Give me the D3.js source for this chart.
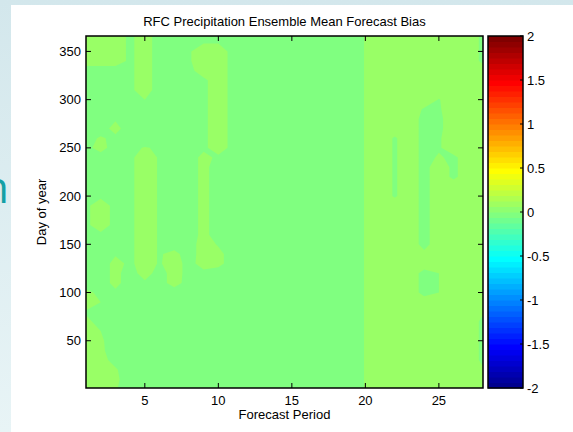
<!DOCTYPE html>
<html><head><meta charset="utf-8">
<script src="https://cdn.jsdelivr.net/npm/d3@7"></script>
<style>body{margin:0;background:#fff}svg{display:block;font-family:"Liberation Sans",Arial,sans-serif}</style>
</head><body><svg id="c" width="573" height="432"></svg>
<script>
// ---- data ----
const titleText = "RFC Precipitation Ensemble Mean Forecast Bias";
const xLabel = "Forecast Period";
const yLabel = "Day of year";
const periods = [1,2,3,4,5,6,7,8,9,10,11,12,13,14,15,16,17,18,19,20,21,22,23,24,25,26,27,28];
const days = [1,10,20,30,40,50,60,70,80,90,100,110,120,130,140,150,160,170,180,190,200,210,220,230,240,250,260,270,280,290,300,310,320,330,340,350,360,366];
// bias[dayIndex][periodIndex]
const bias = [
[.1,.08,.06,0,0,0,0,0,0,0,0,0,0,0,0,0,0,0,0,.055,.1,.1,.1,.1,.1,.1,.1,.1],
[.1,.09,.07,0,0,0,0,0,0,0,0,0,0,0,0,0,0,0,0,.055,.1,.1,.1,.1,.1,.1,.1,.1],
[.1,.09,.06,0,0,0,0,0,0,0,0,0,0,0,0,0,0,0,0,.055,.1,.1,.1,.1,.1,.1,.1,.06],
[.1,.08,.02,0,0,0,0,0,0,0,0,0,0,0,0,0,0,0,0,.055,.1,.1,.1,.1,.1,.1,.1,.03],
[.1,.07,0,0,0,0,0,0,0,0,0,0,0,0,0,0,0,0,0,.055,.1,.1,.1,.1,.1,.1,.1,.03],
[.1,.065,0,0,0,0,0,0,0,0,0,0,0,0,0,0,0,0,0,.055,.1,.1,.1,.1,.1,.1,.1,.03],
[.1,.05,0,0,0,0,0,0,0,0,0,0,0,0,0,0,0,0,0,.055,.1,.1,.1,.1,.1,.1,.1,.03],
[.07,.02,0,0,0,0,0,0,0,0,0,0,0,0,0,0,0,0,0,.055,.1,.1,.1,.1,.1,.1,.1,.03],
[.04,.02,0,0,0,0,0,0,0,0,0,0,0,0,0,0,0,0,0,.055,.1,.1,.1,.1,.1,.1,.1,.06],
[.1,.05,0,0,0,0,0,0,0,0,0,0,0,0,0,0,0,0,0,.055,.1,.1,.1,.1,.1,.1,.1,.1],
[.07,.03,.03,0,0,0,0,0,0,0,0,0,0,0,0,0,0,0,0,.055,.1,.1,.1,.02,.05,.1,.1,.1],
[0,0,.08,0,.03,.01,.09,.01,0,0,0,0,0,0,0,0,0,0,0,.055,.1,.1,.1,.02,.05,.1,.1,.1],
[0,0,.08,0,.1,0,.1,.01,.02,0,0,0,0,0,0,0,0,0,0,.055,.1,.1,.1,.02,.05,.1,.1,.1],
[0,0,.08,.03,.1,.04,.1,.01,.1,.08,0,0,0,0,0,0,0,0,0,.055,.1,.1,.1,.1,.1,.1,.1,.1],
[0,0,.04,.03,.1,.04,.08,0,.1,.08,0,0,0,0,0,0,0,0,0,.055,.1,.1,.1,.07,.1,.1,.1,.1],
[0,0,0,.03,.1,.04,0,0,.1,.04,0,0,0,0,0,0,0,0,0,.055,.1,.1,.1,.02,.1,.1,.1,.1],
[0,.03,0,.03,.1,.04,0,0,.08,0,0,0,0,0,0,0,0,0,0,.055,.1,.1,.1,.02,.1,.1,.1,.1],
[.03,.1,.02,.03,.1,.04,0,0,.08,0,0,0,0,0,0,0,0,0,0,.055,.1,.1,.1,.02,.1,.1,.1,.1],
[.03,.1,.02,.03,.1,.04,0,0,.08,0,0,0,0,0,0,0,0,0,0,.055,.1,.1,.1,.02,.1,.1,.1,.1],
[.03,.1,.02,.03,.1,.04,0,0,.08,0,0,0,0,0,0,0,0,0,0,.055,.1,.1,.1,.02,.1,.1,.1,.1],
[0,.03,0,.03,.1,.04,0,0,.08,0,0,0,0,0,0,0,0,0,0,.055,.1,.04,.1,.02,.1,.1,.1,.1],
[0,0,0,.03,.1,.04,0,0,.08,0,0,0,0,0,0,0,0,0,0,.055,.1,.04,.1,.02,.1,.1,.1,.1],
[0,0,0,.03,.1,.04,0,0,.08,0,0,0,0,0,0,0,0,0,0,.055,.1,.04,.1,.02,.1,.03,.1,.1],
[0,0,0,.03,.1,.04,0,0,.08,0,0,0,0,0,0,0,0,0,0,.055,.1,.04,.1,.02,.1,.03,.1,.1],
[0,0,0,.03,.1,.04,0,0,.08,.03,0,0,0,0,0,0,0,0,0,.055,.1,.04,.1,.02,.06,.03,.1,.1],
[.02,.09,0,.03,.055,.04,0,0,.03,.1,.02,0,0,0,0,0,0,0,0,.055,.1,.04,.1,.02,.04,.1,.1,.1],
[.02,.06,.03,0,0,0,0,0,.03,.1,.02,0,0,0,0,0,0,0,0,.055,.1,.04,.1,.02,.04,.1,.1,.1],
[0,.01,.08,0,0,0,0,0,.03,.1,.02,0,0,0,0,0,0,0,0,.055,.1,.1,.1,.02,.03,.1,.1,.1],
[0,0,.04,0,0,0,0,0,.03,.1,.02,0,0,0,0,0,0,0,0,.055,.1,.1,.1,.02,.03,.1,.1,.1],
[0,0,0,0,0,0,0,0,.03,.1,.02,0,0,0,0,0,0,0,0,.055,.1,.1,.1,.04,.04,.1,.1,.1],
[0,0,0,0,.05,0,0,0,.03,.1,.02,0,0,0,0,0,0,0,0,.055,.1,.1,.1,.1,.045,.1,.1,.1],
[0,0,0,.03,.1,0,0,0,.03,.1,.02,0,0,0,0,0,0,0,0,.055,.1,.1,.1,.1,.1,.1,.1,.1],
[0,0,0,.03,.1,0,0,0,.03,.1,.02,0,0,0,0,0,0,0,0,.055,.1,.1,.1,.1,.1,.1,.1,.1],
[0,0,0,.03,.1,0,0,.02,.1,.1,.02,0,0,0,0,0,0,0,0,.055,.1,.1,.1,.1,.1,.1,.1,.1],
[.1,.1,.1,.03,.1,0,0,.04,.1,.1,.02,0,0,0,0,0,0,0,0,.055,.1,.1,.1,.1,.1,.1,.1,.03],
[.1,.1,.1,.03,.1,0,0,.04,.1,.1,.02,0,0,0,0,0,0,0,0,.055,.1,.1,.1,.1,.1,.1,.1,.03],
[.1,.1,.1,.03,.1,0,0,0,.04,.04,0,0,0,0,0,0,0,0,0,.055,.1,.1,.1,.1,.1,.1,.1,.03],
[.1,.1,.1,.03,.1,0,0,0,0,0,0,0,0,0,0,0,0,0,0,.055,.1,.1,.1,.1,.1,.1,.1,.03]
];
const contourLevels = [0, 0.05];   // filled bands: [0,0.05) and >=0.05
const levelColorValues = [0, 0.1];  // colour value used for each band
const xTicks = [5,10,15,20,25];
const yTicks = [50,100,150,200,250,300,350];
const cbTicks = [-2,-1.5,-1,-0.5,0,0.5,1,1.5,2];
const cLim = [-2, 2];
const nColors = 64;

// ---- helpers ----
function jet(t){
  const c = v => Math.max(0, Math.min(1, v));
  const r = c(1.5 - Math.abs(4*t - 3)), g = c(1.5 - Math.abs(4*t - 2)), b = c(1.5 - Math.abs(4*t - 1));
  return d3.rgb(r*255, g*255, b*255).formatHex();
}
const colorOf = v => jet((v - cLim[0]) / (cLim[1] - cLim[0]));

// ---- layout ----
const W = 573, H = 432;
const P = {l:86, r:483, t:36, b:388};
const CB = {l:488, r:523};
const svg = d3.select("#c");

// page background
const defs = svg.append("defs");
const grad = defs.append("linearGradient").attr("id","bg").attr("x1",0).attr("y1",0).attr("x2",0).attr("y2",1);
grad.append("stop").attr("offset","0%").attr("stop-color","#d3e7ec");
grad.append("stop").attr("offset","100%").attr("stop-color","#e8f4f6");
svg.append("rect").attr("width",W).attr("height",H).attr("fill","url(#bg)");
svg.append("text").attr("x",9).attr("y",203).attr("text-anchor","end")
  .attr("font-family","'Open Sans',sans-serif").attr("font-size",44).attr("fill","#14a0a6").text("n");
svg.append("rect").attr("x",11).attr("y",5).attr("width",W-11).attr("height",H-5).attr("fill","#fff");

const x = d3.scaleLinear().domain([periods[0], periods[periods.length-1]]).range([P.l, P.r]);
const y = d3.scaleLinear().domain([days[0], days[days.length-1]]).range([P.b, P.t]);

// grid index -> data coordinate (piecewise linear)
const colIdx = d3.scaleLinear().domain(d3.range(periods.length)).range(periods).clamp(true);
const rowIdx = d3.scaleLinear().domain(d3.range(days.length)).range(days).clamp(true);

defs.append("clipPath").attr("id","plotclip").append("rect")
  .attr("x",P.l).attr("y",P.t).attr("width",P.r-P.l).attr("height",P.b-P.t);

const nx = periods.length, ny = days.length;
const flat = [];
bias.forEach(row => row.forEach(v => flat.push(v)));
const contours = d3.contours().size([nx, ny]).thresholds(contourLevels).smooth(true)(flat);
const proj = d3.geoTransform({point(px, py){ this.stream.point(x(colIdx(px - 0.5)), y(rowIdx(py - 0.5))); }});
const path = d3.geoPath(proj);

const gPlot = svg.append("g").attr("clip-path","url(#plotclip)");
gPlot.selectAll("path.band").data(contours).join("path").attr("class","band")
  .attr("d", path)
  .attr("fill", (d,i) => colorOf(levelColorValues[i]))
  .attr("fill-rule","evenodd")
  .attr("stroke","none");

// axes box & ticks (inside)
const tl = 5;
const gAx = svg.append("g").attr("stroke","#000").attr("stroke-width",1);
xTicks.forEach(t => {
  gAx.append("line").attr("x1",x(t)).attr("x2",x(t)).attr("y1",P.b).attr("y2",P.b-tl);
  gAx.append("line").attr("x1",x(t)).attr("x2",x(t)).attr("y1",P.t).attr("y2",P.t+tl);
});
yTicks.forEach(t => {
  gAx.append("line").attr("x1",P.l).attr("x2",P.l+tl).attr("y1",y(t)).attr("y2",y(t));
  gAx.append("line").attr("x1",P.r).attr("x2",P.r-tl).attr("y1",y(t)).attr("y2",y(t));
});
svg.append("rect").attr("x",P.l).attr("y",P.t).attr("width",P.r-P.l).attr("height",P.b-P.t)
  .attr("fill","none").attr("stroke","#000").attr("stroke-width",1.5);

const fs = 13;
svg.append("g").selectAll("text").data(xTicks).join("text")
  .attr("x", d => x(d)).attr("y", P.b + 17).attr("text-anchor","middle").attr("font-size",fs).text(d => d);
svg.append("g").selectAll("text").data(yTicks).join("text")
  .attr("x", P.l - 5).attr("y", d => y(d)).attr("dy","0.35em").attr("text-anchor","end").attr("font-size",fs).text(d => d);

svg.append("text").attr("x",(P.l+P.r)/2).attr("y",26).attr("text-anchor","middle").attr("font-size",fs).text(titleText);
svg.append("text").attr("x",(P.l+P.r)/2).attr("y",419).attr("text-anchor","middle").attr("font-size",fs).text(xLabel);
svg.append("text").attr("transform",`translate(46,${(P.t+P.b)/2}) rotate(-90)`).attr("text-anchor","middle").attr("font-size",fs).text(yLabel);

// colorbar
const cy = d3.scaleLinear().domain(cLim).range([P.b, P.t]);
const bands = d3.range(1, nColors+1);
svg.append("g").selectAll("rect").data(bands).join("rect")
  .attr("x", CB.l).attr("width", CB.r - CB.l)
  .attr("y", k => cy(cLim[0] + k*(cLim[1]-cLim[0])/nColors))
  .attr("height", k => cy(cLim[0] + (k-1)*(cLim[1]-cLim[0])/nColors) - cy(cLim[0] + k*(cLim[1]-cLim[0])/nColors) + 0.5)
  .attr("fill", k => jet(k/nColors));
const gCb = svg.append("g").attr("stroke","#000").attr("stroke-width",1);
cbTicks.forEach(t => {
  gCb.append("line").attr("x1",CB.r).attr("x2",CB.r-3).attr("y1",cy(t)).attr("y2",cy(t));
});
svg.append("rect").attr("x",CB.l).attr("y",P.t).attr("width",CB.r-CB.l).attr("height",P.b-P.t)
  .attr("fill","none").attr("stroke","#000").attr("stroke-width",1.5);
svg.append("g").selectAll("text").data(cbTicks).join("text")
  .attr("x", CB.r + 4).attr("y", d => cy(d)).attr("dy","0.35em").attr("font-size",fs).text(d => d);
</script></body></html>
